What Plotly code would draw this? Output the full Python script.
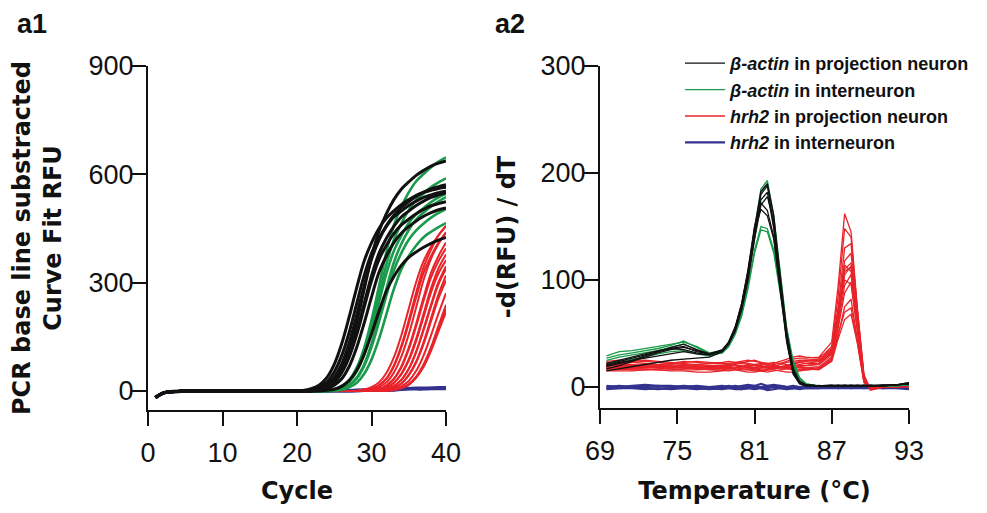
import plotly.graph_objects as go

# ---------------- data: amplification (panel a1) ----------------
cycles = list(range(1, 41))
baseline_c1_20 = [-18, -6, -2, -1, 0, 0, 0, 0, 0, 0, 0, 0, 0, 0, 0, 0, 0, 0, 0, 0]

# values for cycles 21..40
amp_actin_proj = [
    [2, 7, 17, 37, 74, 131, 205, 285, 359, 410, 450, 479, 499, 516, 530, 542, 550, 556, 561, 564],
    [1, 4, 11, 25, 53, 98, 162, 241, 319, 381, 423, 456, 482, 498, 514, 526, 536, 543, 549, 553],
    [0, 1, 5, 13, 29, 62, 114, 189, 280, 371, 442, 491, 530, 559, 579, 597, 611, 623, 631, 637],
    [0, 2, 7, 17, 38, 75, 133, 209, 290, 365, 418, 458, 487, 508, 525, 539, 551, 560, 566, 571],
    [0, 1, 4, 11, 24, 51, 94, 155, 230, 305, 364, 404, 436, 460, 476, 491, 503, 513, 519, 524],
    [0, 0, 0, 2, 5, 13, 29, 57, 101, 158, 220, 277, 317, 348, 370, 385, 398, 409, 418, 425],
    [0, 1, 4, 11, 25, 53, 98, 162, 241, 319, 381, 423, 456, 482, 498, 514, 526, 536, 543, 549],
    [0, 0, 2, 6, 16, 34, 68, 120, 187, 260, 328, 374, 411, 437, 455, 471, 484, 494, 502, 507],
]
amp_actin_inter = [
    [0, 0, 0, 1, 5, 14, 30, 64, 118, 196, 290, 385, 459, 510, 550, 581, 601, 620, 635, 647],
    [0, 0, 0, 1, 4, 12, 28, 58, 108, 178, 264, 351, 418, 464, 501, 529, 547, 565, 578, 589],
    [0, 0, 0, 1, 4, 11, 26, 54, 100, 165, 245, 325, 388, 430, 465, 490, 507, 523, 536, 546],
    [0, 0, 0, 0, 2, 7, 17, 37, 73, 130, 203, 283, 356, 407, 446, 475, 494, 511, 525, 537],
    [0, 0, 0, 0, 2, 6, 16, 34, 69, 122, 191, 265, 334, 382, 419, 445, 464, 480, 493, 504],
    [0, 0, 0, 0, 1, 3, 10, 22, 47, 87, 144, 213, 282, 337, 374, 403, 426, 441, 454, 465],
]
amp_hrh2_proj = [
    [0, 0, 0, 0, 0, 0, 0, 1, 4, 11, 24, 50, 93, 154, 228, 302, 360, 400, 432, 456],
    [0, 0, 0, 0, 0, 0, 0, 0, 2, 6, 16, 34, 68, 120, 187, 260, 328, 374, 411, 437],
    [0, 0, 0, 0, 0, 0, 0, 0, 1, 4, 11, 24, 51, 95, 157, 232, 308, 367, 408, 440],
    [0, 0, 0, 0, 0, 0, 0, 0, 0, 2, 6, 16, 34, 68, 120, 187, 260, 328, 374, 411],
    [0, 0, 0, 0, 0, 0, 0, 0, 0, 2, 6, 15, 33, 65, 115, 180, 250, 315, 360, 395],
    [0, 0, 0, 0, 0, 0, 0, 0, 0, 1, 4, 10, 23, 48, 88, 145, 215, 285, 340, 378],
    [0, 0, 0, 0, 0, 0, 0, 0, 0, 0, 2, 6, 14, 31, 62, 110, 173, 240, 302, 346],
    [0, 0, 0, 0, 0, 0, 0, 0, 0, 0, 2, 6, 14, 31, 61, 108, 169, 235, 296, 338],
    [0, 0, 0, 0, 0, 0, 0, 0, 0, 0, 1, 3, 9, 21, 45, 82, 136, 202, 268, 320],
    [0, 0, 0, 0, 0, 0, 0, 0, 0, 0, 1, 3, 9, 20, 43, 79, 131, 194, 257, 306],
    [0, 0, 0, 0, 0, 0, 0, 0, 0, 0, 0, 2, 5, 13, 28, 56, 99, 155, 215, 271],
    [0, 0, 0, 0, 0, 0, 0, 0, 0, 0, 0, 1, 3, 8, 19, 40, 74, 122, 181, 239],
    [0, 0, 0, 0, 0, 0, 0, 0, 0, 0, 0, 1, 3, 8, 18, 38, 70, 116, 172, 228],
    [0, 0, 0, 0, 0, 0, 0, 0, 0, 0, 0, 1, 3, 8, 17, 37, 67, 112, 166, 219],
    [0, 0, 0, 0, 0, 0, 0, 0, 2, 7, 16, 35, 71, 125, 196, 273, 343, 392, 431, 458],
    [0, 0, 0, 0, 0, 0, 0, 0, 0, 1, 3, 10, 22, 46, 84, 139, 206, 274, 326, 362],
]
# full 40 cycles
amp_hrh2_inter = [
    [-18, -6, -2, -1, 0, 0, 0, 0, 0, 0, 0, 0, 0, 0, 0, 0, 0, 0, 0, 0,
     0, 0, 0, 0, 1, 1, 1, 1, 2, 2, 2, 3, 3, 5, 6, 6, 6, 7, 7, 7],
    [-18, -6, -2, -1, 0, 0, 0, 0, 0, 0, 0, 0, 0, 0, 0, 0, 0, 0, 0, 0,
     0, 0, 0, 0, 1, 1, 1, 2, 2, 2, 3, 3, 4, 6, 7, 8, 8, 8, 9, 9],
]

# ---------------- data: melt curves (panel a2) ----------------
temps = [69.5, 70.5, 71.5, 72.5, 73.5, 74.5, 75.5, 76.5, 77.5, 78.5,
         79, 79.5, 80, 80.5, 81, 81.5, 82, 82.5, 83, 83.5, 84, 84.5, 85,
         86, 87, 87.5, 88, 88.5, 89, 89.5, 90, 91, 92, 93]

melt_actin_proj = [
    [20, 24, 27, 30, 33, 36, 38, 33, 31, 35, 42, 55, 75, 105, 145, 180, 188, 150, 95, 45, 14, 4, 2, 1, 1, 1, 1, 1, 1, 1, 1, 1, 2, 3],
    [17, 20, 24, 28, 32, 35, 37, 34, 31, 34, 41, 54, 73, 102, 140, 175, 182, 148, 97, 48, 16, 5, 2, 1, 1, 1, 1, 1, 2, 1, 1, 2, 2, 3],
    [22, 25, 28, 31, 34, 36, 35, 32, 30, 34, 42, 56, 78, 110, 150, 172, 165, 140, 92, 44, 13, 3, 1, 1, 1, 1, 1, 2, 1, 1, 1, 1, 2, 4],
    [15, 17, 19, 21, 23, 25, 26, 27, 28, 33, 40, 52, 72, 100, 138, 170, 178, 155, 105, 52, 18, 5, 2, 1, 1, 2, 1, 1, 1, 2, 1, 1, 2, 3],
    [19, 22, 25, 29, 33, 37, 40, 35, 31, 34, 41, 54, 76, 108, 145, 166, 160, 138, 90, 42, 12, 3, 1, 1, 1, 1, 2, 1, 1, 1, 1, 2, 2, 4],
    [21, 23, 25, 27, 29, 31, 33, 31, 30, 34, 42, 56, 78, 108, 148, 183, 190, 160, 100, 48, 15, 4, 2, 1, 2, 1, 1, 1, 1, 1, 2, 1, 2, 3],
]
melt_actin_inter = [
    [29, 33, 34, 36, 38, 40, 42, 38, 32, 34, 40, 53, 74, 105, 148, 185, 193, 160, 105, 55, 20, 7, 2, 1, 1, 1, 1, 1, 1, 1, 1, 1, 2, 2],
    [27, 30, 32, 34, 36, 39, 43, 37, 31, 33, 40, 52, 72, 103, 145, 182, 190, 158, 103, 52, 18, 6, 2, 1, 1, 1, 1, 1, 1, 1, 1, 1, 1, 2],
    [22, 24, 26, 28, 31, 33, 34, 31, 29, 32, 38, 50, 68, 95, 128, 150, 148, 128, 92, 55, 25, 9, 3, 1, 1, 1, 1, 1, 1, 1, 1, 1, 1, 2],
    [25, 28, 30, 32, 34, 37, 40, 35, 30, 32, 38, 49, 66, 92, 125, 147, 145, 125, 88, 50, 22, 8, 3, 1, 1, 1, 1, 1, 1, 1, 1, 1, 1, 2],
]
melt_hrh2_proj = [
    [24, 25, 23, 22, 21, 22, 24, 23, 22, 23, 24, 23, 22, 24, 25, 23, 22, 21, 22, 24, 26, 27, 27, 28, 42, 95, 162, 145, 72, 12, -3, 0, 1, 1],
    [22, 21, 20, 19, 20, 21, 20, 19, 18, 19, 20, 21, 22, 21, 20, 19, 18, 19, 21, 23, 24, 25, 25, 26, 38, 85, 148, 140, 70, 10, -2, 0, 1, 1],
    [20, 20, 19, 18, 18, 19, 20, 21, 22, 22, 21, 20, 19, 18, 18, 19, 20, 22, 24, 26, 28, 29, 28, 27, 36, 75, 130, 134, 68, 9, -1, 0, 1, 0],
    [18, 19, 20, 21, 20, 19, 18, 17, 17, 18, 19, 20, 20, 19, 18, 17, 17, 18, 19, 20, 22, 23, 22, 22, 32, 68, 110, 116, 62, 8, -2, 0, 0, 1],
    [17, 17, 16, 16, 17, 18, 18, 17, 16, 16, 17, 18, 19, 18, 17, 16, 16, 17, 18, 19, 20, 20, 20, 21, 30, 64, 108, 112, 60, 7, -1, 0, 1, 1],
    [21, 22, 23, 24, 23, 22, 21, 20, 19, 19, 18, 18, 19, 20, 21, 22, 21, 20, 19, 18, 18, 19, 20, 22, 33, 70, 114, 108, 58, 8, -2, 0, 0, 1],
    [16, 16, 17, 18, 19, 19, 18, 17, 16, 15, 15, 16, 17, 17, 16, 15, 14, 15, 16, 17, 18, 18, 18, 19, 28, 58, 95, 105, 56, 6, -1, 0, 1, 1],
    [19, 18, 17, 17, 16, 16, 17, 18, 19, 20, 19, 18, 17, 16, 15, 15, 16, 17, 18, 18, 17, 16, 16, 17, 27, 55, 88, 98, 52, 6, -2, 0, 0, 1],
    [23, 22, 21, 20, 21, 22, 23, 24, 23, 22, 22, 23, 24, 25, 24, 23, 22, 20, 19, 19, 20, 21, 22, 24, 34, 66, 100, 96, 50, 7, -2, 0, 1, 1],
    [15, 15, 15, 16, 16, 15, 15, 14, 14, 15, 16, 16, 15, 14, 14, 15, 16, 16, 15, 14, 14, 15, 16, 17, 25, 48, 75, 82, 45, 5, -1, 0, 1, 0],
    [18, 18, 19, 19, 18, 17, 16, 16, 17, 18, 18, 17, 16, 16, 17, 18, 19, 19, 18, 17, 16, 16, 17, 18, 26, 50, 70, 74, 42, 5, -1, 0, 0, 1],
    [20, 21, 21, 20, 19, 18, 18, 19, 20, 21, 21, 20, 19, 19, 20, 21, 22, 23, 22, 21, 19, 18, 17, 16, 24, 45, 63, 68, 40, 4, -1, 0, 1, 1],
    [22, 23, 24, 25, 24, 23, 22, 21, 20, 20, 21, 22, 23, 22, 21, 20, 19, 18, 18, 19, 21, 23, 24, 25, 35, 72, 118, 125, 65, 9, -2, 0, 1, 1],
    [17, 18, 18, 19, 20, 20, 19, 18, 18, 17, 17, 18, 19, 20, 20, 19, 18, 18, 19, 20, 22, 24, 25, 24, 31, 62, 105, 113, 60, 7, -1, 0, 0, 1],
]
melt_hrh2_inter = [
    [1, 0, 1, 2, 1, 0, 1, 0, -1, 0, 1, 0, 1, 2, 1, 0, 1, 2, 1, 0, -1, 0, 1, 0, 0, 1, 0, 1, 0, 1, 0, 1, 0, 0],
    [-1, -1, 0, -1, -2, -1, 0, -1, -2, -1, 0, -1, -2, -1, 0, -1, -1, 0, -1, -2, -1, 0, -1, -1, 0, -1, 0, -1, 0, -1, 0, -1, 0, -1],
    [0, 1, 0, 0, 1, 1, 0, 1, 0, 1, 0, 1, 0, 0, 1, 3, 1, 0, 1, 0, 1, 0, 0, 1, 0, 0, 1, 0, 0, 0, 1, 0, 1, 0],
    [-2, -1, -1, -2, -1, -2, -1, -2, -1, -2, -1, -2, -2, -1, -2, -1, -3, -2, -1, -2, -1, -2, -1, -1, -1, -1, -1, -1, -1, -1, -1, -1, -1, -2],
]

# ticks
x1_ticks = [0, 10, 20, 30, 40]
y1_ticks = [0, 300, 600, 900]
x2_ticks = [69, 75, 81, 87, 93]
y2_ticks = [0, 100, 200, 300]

series_names = [
    "<b><i>β-actin</i> in projection neuron</b>",
    "<b><i>β-actin</i> in interneuron</b>",
    "<b><i>hrh2</i> in projection neuron</b>",
    "<b><i>hrh2</i> in interneuron</b>",
]
colors = ["#111111", "#1a9a4a", "#e8232a", "#33338f"]

fig = go.Figure()

# ---- panel a1 (draw order: blue, red, green, black)
for ys in amp_hrh2_inter:
    fig.add_trace(go.Scatter(x=cycles, y=ys, mode="lines", line=dict(color=colors[3], width=3.5, shape="spline"),
                             xaxis="x", yaxis="y", showlegend=False, hoverinfo="skip"))
for tail in amp_hrh2_proj:
    fig.add_trace(go.Scatter(x=cycles, y=baseline_c1_20 + tail, mode="lines", line=dict(color=colors[2], width=2, shape="spline"),
                             xaxis="x", yaxis="y", showlegend=False, hoverinfo="skip"))
for tail in amp_actin_inter:
    fig.add_trace(go.Scatter(x=cycles, y=baseline_c1_20 + tail, mode="lines", line=dict(color=colors[1], width=2.6, shape="spline"),
                             xaxis="x", yaxis="y", showlegend=False, hoverinfo="skip"))
for tail in amp_actin_proj:
    fig.add_trace(go.Scatter(x=cycles, y=baseline_c1_20 + tail, mode="lines", line=dict(color=colors[0], width=3, shape="spline"),
                             xaxis="x", yaxis="y", showlegend=False, hoverinfo="skip"))

# ---- panel a2
groups = [(melt_hrh2_inter, 3, 2.2), (melt_hrh2_proj, 2, 1.3), (melt_actin_inter, 1, 1.3), (melt_actin_proj, 0, 1.3)]
for data, gi, w in groups:
    for k, ys in enumerate(data):
        fig.add_trace(go.Scatter(x=temps, y=ys, mode="lines", line=dict(color=colors[gi], width=w),
                                 xaxis="x2", yaxis="y2", name=series_names[gi],
                                 legendrank=gi + 1, showlegend=(k == 0), hoverinfo="skip"))

# the page body has an 8px margin: figure is sized to fit the window exactly
W, H = 971, 497
OFF = 8


def px_x(v):
    return (v - OFF) / W


def px_y(v):
    return 1 - (v - OFF) / H


tick_font = dict(family="Liberation Sans, Arial, sans-serif", size=27, color="#111111")
title_font = dict(family="DejaVu Sans, sans-serif", size=24, color="#111111")

axis_common = dict(showline=True, linewidth=2, linecolor="#111111", ticks="outside", tickwidth=2,
                   tickcolor="#111111", showgrid=False, zeroline=False, tickfont=tick_font, automargin=False)

fig.update_layout(
    width=W, height=H,
    margin=dict(l=0, r=0, t=0, b=0),
    paper_bgcolor="white", plot_bgcolor="white",
    xaxis=dict(domain=[px_x(148), px_x(446)], range=[0, 40], tickvals=x1_ticks, ticklen=14, anchor="y",
               ticklabelstandoff=4,
               title=dict(text="<b>Cycle</b>", font=title_font, standoff=22), **axis_common),
    yaxis=dict(domain=[px_y(410), px_y(66)], range=[-52.5, 900], tickvals=y1_ticks, ticklen=15, anchor="x",
               ticklabelstandoff=-8,
               title=dict(text="<b>PCR base line substracted<br>Curve Fit RFU</b>", font=title_font, standoff=20),
               **axis_common),
    xaxis2=dict(domain=[px_x(600), px_x(909)], range=[69, 93], tickvals=x2_ticks, ticklen=14, anchor="y2",
                ticklabelstandoff=4,
                title=dict(text="<b>Temperature (°C)</b>", font=title_font, standoff=22), **axis_common),
    yaxis2=dict(domain=[px_y(408), px_y(66)], range=[-19.6, 300], tickvals=y2_ticks, ticklen=15, anchor="x2",
                ticklabelstandoff=-8,
                title=dict(text="<b>-d(RFU) / dT</b>", font=title_font, standoff=18), **axis_common),
    legend=dict(x=px_x(680), y=px_y(45), xanchor="left", yanchor="top", bgcolor="rgba(0,0,0,0)",
                font=dict(family="Liberation Sans, Arial, sans-serif", size=18, color="#111111"),
                itemwidth=40, traceorder="normal"),
    annotations=[
        dict(text="<b>a1</b>", x=px_x(15), y=px_y(24), xref="paper", yref="paper", xanchor="left", yanchor="middle",
             showarrow=False, font=dict(family="Liberation Sans, Arial, sans-serif", size=27, color="#111111")),
        dict(text="<b>a2</b>", x=px_x(493), y=px_y(24), xref="paper", yref="paper", xanchor="left", yanchor="middle",
             showarrow=False, font=dict(family="Liberation Sans, Arial, sans-serif", size=27, color="#111111")),
    ],
)

fig.write_html("out.html")
